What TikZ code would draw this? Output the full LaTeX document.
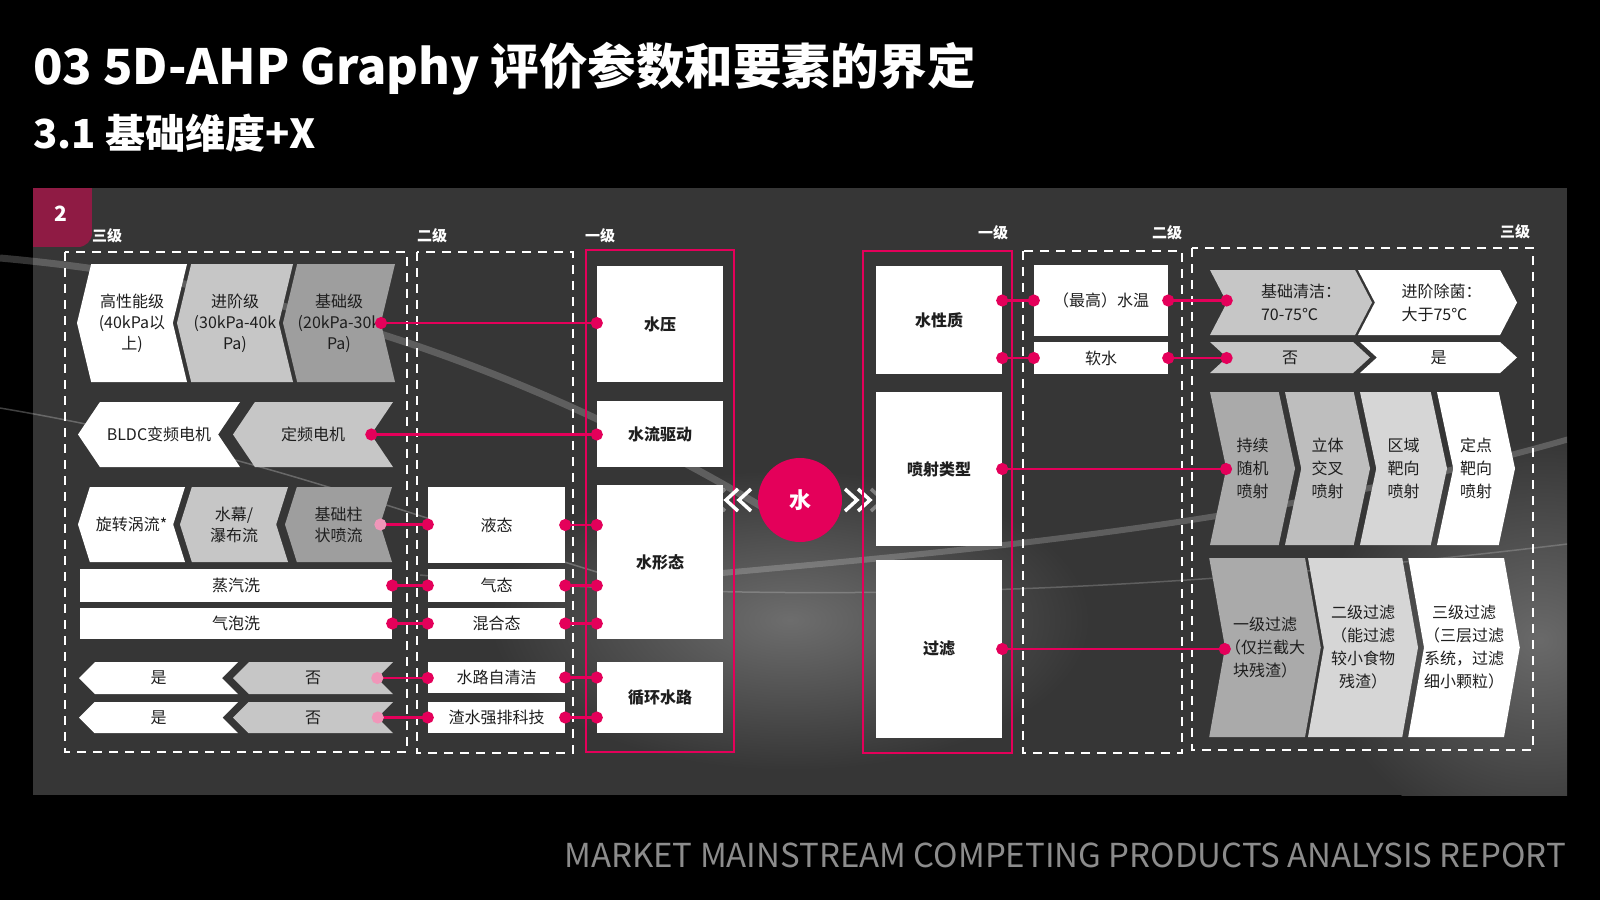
\documentclass[tikz,border=0pt]{standalone}
\usepackage{fontspec}
\setmainfont{Noto Sans CJK SC}
\usetikzlibrary{shapes.symbols,arrows.meta,positioning}
\definecolor{hong}{RGB}{228,0,90}
\definecolor{hongq}{RGB}{240,150,185}
\definecolor{zong}{RGB}{143,27,68}
\definecolor{ban}{RGB}{54,54,54}
\definecolor{huiA}{RGB}{198,198,198}
\definecolor{huiB}{RGB}{158,158,158}
\definecolor{huiC}{RGB}{170,170,170}
\definecolor{huiD}{RGB}{190,190,190}
\definecolor{huiE}{RGB}{214,214,214}
\definecolor{zi}{RGB}{30,30,30}
\definecolor{yejiao}{RGB}{140,140,140}

\tikzset{
  kuang/.style={fill=white, text=zi, inner sep=0pt, font=\bfseries\fontsize{16}{20}\selectfont},
  xiang/.style={fill=white, text=zi, inner sep=0pt, align=center, font=\fontsize{16}{21}\selectfont},
  chevL/.style={signal, signal to=west, signal from=east, xiang},
  chevR/.style={signal, signal to=east, signal from=west, xiang, font=\fontsize{16}{23}\selectfont},
  link/.style={draw=hong, line width=2.5pt, {Circle[length=12pt]}-{Circle[length=12pt]}, shorten <=-6pt, shorten >=-6pt},
  linkq/.style={link, {Circle[length=12pt,color=hongq]}-{Circle[length=12pt]}},
  zu/.style={draw=white, line width=2.5pt, dash pattern=on 9pt off 7pt},
  ji/.style={draw=hong, line width=2.5pt},
  biao/.style={text=white, inner sep=0pt, anchor=west, font=\bfseries\fontsize{15}{15}\selectfont}
}

\begin{document}
\begin{tikzpicture}[x=1pt, y=-1pt]
  \useasboundingbox (0,0) rectangle (1600,900);
  \fill[black] (0,0) rectangle (1600,900);
  \fill[ban] (33,188) rectangle (1567,795);
  \begin{scope}
    \clip (0,188) rectangle (1567,795);
    \shade[inner color=gray!75!ban, outer color=ban] (790,620) ellipse (300 and 150);
    \shade[inner color=gray!70!ban, outer color=ban] (1540,640) ellipse (220 and 200);
    \draw[white, opacity=.2, line width=7pt] (0,258) .. controls (300,285) and (560,380) .. (800,530);
    \draw[white, opacity=.25, line width=1.5pt] (0,408) .. controls (250,450) and (420,520) .. (640,585);
    \draw[white, opacity=.2, line width=6pt] (700,575) .. controls (1000,548) and (1300,520) .. (1600,430);
    \draw[white, opacity=.2, line width=1.5pt] (420,575) .. controls (800,610) and (1200,590) .. (1600,540);
  \end{scope}

  % tag and titles
  \fill[zong] (33,188) rectangle (92,233);
  \fill[zong] (33,200) rectangle (78,247);
  \fill[zong] (78,233) circle (14);
  \node[text=white, font=\bfseries\fontsize{21}{21}\selectfont] (hao) at (61,214) {2};
  \node[anchor=west, inner sep=0pt, text=white, font=\bfseries\fontsize{48.5}{48.5}\selectfont] (biaoti) at (33,69) {03 5D-AHP Graphy 评价参数和要素的界定};
  \node[anchor=west, inner sep=0pt, text=white, font=\bfseries\fontsize{40}{40}\selectfont] (fubiaoti) at (33,133) {3.1 基础维度+X};
  \node[anchor=east, inner sep=0pt, text=yejiao, font=\fontsize{33}{33}\selectfont] (yejiaozi) at (1566,855) {MARKET MAINSTREAM COMPETING PRODUCTS ANALYSIS REPORT};

  % left: 三级
  \draw[zu] (65,252) rectangle (407,752);
  \node[biao] (lbA) at (92,236) {三级};
  \node[chevL, signal pointer angle=153, minimum width=110pt, minimum height=118pt] (gao) at (132,323) {高性能级\\(40kPa以\\上)};
  \node[chevL, signal pointer angle=153, minimum width=116pt, minimum height=118pt, fill=huiA] (jinjie) at (235,323) {进阶级\\(30kPa-40k\\Pa)};
  \node[chevL, signal pointer angle=153, minimum width=112pt, minimum height=118pt, fill=huiB] (jichu) at (339,323) {基础级\\(20kPa-30k\\Pa)};
  \node[chevL, signal pointer angle=112, minimum width=162pt, minimum height=65pt] (bldc) at (159,434.5) {BLDC变频电机};
  \node[chevL, signal pointer angle=112, minimum width=160pt, minimum height=65pt, fill=huiA] (dingpin) at (313,434.5) {定频电机};
  \node[chevL, signal pointer angle=145, minimum width=107pt, minimum height=75pt] (xuanzhuan) at (131.5,524.5) {旋转涡流*};
  \node[chevL, signal pointer angle=145, minimum width=108pt, minimum height=75pt, fill=huiA] (shuimu) at (234,524.5) {水幕/\\瀑布流};
  \node[chevL, signal pointer angle=145, minimum width=107pt, minimum height=75pt, fill=huiB] (zhuzhuang) at (338.5,524.5) {基础柱\\状喷流};
  \node[xiang, minimum width=312pt, minimum height=33pt] (zhengqi) at (236,585.5) {蒸汽洗};
  \node[xiang, minimum width=312pt, minimum height=31pt] (qipao) at (236,623.5) {气泡洗};
  \node[chevL, signal pointer angle=90, minimum width=159pt, minimum height=32pt] (shiA) at (158.5,678) {是};
  \node[chevL, signal pointer angle=90, minimum width=160pt, minimum height=32pt, fill=huiA] (fouA) at (313,678) {否};
  \node[chevL, signal pointer angle=90, minimum width=159pt, minimum height=31pt] (shiB) at (158.5,717.5) {是};
  \node[chevL, signal pointer angle=90, minimum width=160pt, minimum height=31pt, fill=huiA] (fouB) at (313,717.5) {否};

  % left: 二级
  \draw[zu] (417,252) rectangle (573,753);
  \node[biao] (lbB) at (417,236) {二级};
  \node[xiang, minimum width=137pt, minimum height=76pt] (yetai) at (496.5,525) {液态};
  \node[xiang, minimum width=137pt, minimum height=33pt] (qitai) at (496.5,585.5) {气态};
  \node[xiang, minimum width=137pt, minimum height=31pt] (hunhe) at (496.5,623.5) {混合态};
  \node[xiang, minimum width=137pt, minimum height=31pt] (zijie) at (496.5,677.5) {水路自清洁};
  \node[xiang, minimum width=137pt, minimum height=31pt] (zhashui) at (496.5,717.5) {渣水强排科技};

  % left: 一级
  \draw[ji] (586,250) rectangle (734,752);
  \node[biao] (lbC) at (585,236) {一级};
  \node[kuang, minimum width=126pt, minimum height=116pt] (shuiya) at (660,324) {水压};
  \node[kuang, minimum width=126pt, minimum height=66pt] (qudong) at (660,434) {水流驱动};
  \node[kuang, minimum width=126pt, minimum height=154pt] (xingtai) at (660,562) {水形态};
  \node[kuang, minimum width=126pt, minimum height=71pt] (xunhuan) at (660,697.5) {循环水路};

  % centre
  \node[circle, fill=hong, text=white, minimum size=84pt, font=\bfseries\fontsize{22}{22}\selectfont] (shui) at (800,500) {水};
  \foreach \d/\o in {-87/.35,-74/1,-61/1}
    \draw[white, line width=3.5pt, opacity=\o] ([shift={(\d+12,-11)}]shui.center) -- ([shift={(\d,0)}]shui.center) -- ([shift={(\d+12,11)}]shui.center);
  \foreach \d/\o in {57/1,70/1,83/.35}
    \draw[white, line width=3.5pt, opacity=\o] ([shift={(\d-12,-11)}]shui.center) -- ([shift={(\d,0)}]shui.center) -- ([shift={(\d-12,11)}]shui.center);

  % right: 一级
  \draw[ji] (863,251) rectangle (1012,753);
  \node[biao] (lbD) at (978,233) {一级};
  \node[kuang, minimum width=126pt, minimum height=108pt] (xingzhi) at (939,320) {水性质};
  \node[kuang, minimum width=126pt, minimum height=154pt] (penshe) at (939,469) {喷射类型};
  \node[kuang, minimum width=126pt, minimum height=178pt] (guolv) at (939,649) {过滤};

  % right: 二级
  \draw[zu] (1023,251) rectangle (1182,753);
  \node[biao] (lbE) at (1152,233) {二级};
  \node[xiang, minimum width=134pt, minimum height=71pt] (shuiwen) at (1101,300.5) {（最高）水温};
  \node[xiang, minimum width=134pt, minimum height=32pt] (ruanshui) at (1101,358) {软水};

  % right: 三级
  \draw[zu] (1192,248) rectangle (1533,750);
  \node[biao] (lbF) at (1500,232) {三级};
  \node[chevR, align=left, signal pointer angle=125, minimum width=162pt, minimum height=65pt, fill=huiA] (qingjie) at (1291,302.5) {\hspace*{20pt}基础清洁：\\\hspace*{20pt}70-75℃};
  \node[chevR, align=left, signal pointer angle=125, minimum width=159pt, minimum height=65pt] (chujun) at (1437.5,302.5) {\hspace*{8pt}进阶除菌：\\\hspace*{8pt}大于75℃};
  \node[chevR, signal pointer angle=85, minimum width=160pt, minimum height=31pt, fill=huiA] (fouR) at (1290,357.5) {否};
  \node[chevR, signal pointer angle=85, minimum width=157pt, minimum height=31pt] (shiR) at (1438.5,357.5) {是};
  \node[chevR, signal pointer angle=156, minimum width=85pt, minimum height=153pt, fill=huiC] (pA) at (1252.5,468.5) {持续\\随机\\喷射};
  \node[chevR, signal pointer angle=156, minimum width=85pt, minimum height=153pt, fill=huiD] (pB) at (1327.5,468.5) {立体\\交叉\\喷射};
  \node[chevR, signal pointer angle=156, minimum width=87pt, minimum height=153pt, fill=huiE] (pC) at (1403.5,468.5) {区域\\靶向\\喷射};
  \node[chevR, signal pointer angle=156, minimum width=78pt, minimum height=153pt] (pD) at (1476,468.5) {定点\\靶向\\喷射};
  \node[chevR, signal pointer angle=160, minimum width=110pt, minimum height=179pt, fill=huiC] (gA) at (1265,647.5) {一级过滤\\（仅拦截大\\块残渣）};
  \node[chevR, signal pointer angle=160, minimum width=110pt, minimum height=179pt, fill=huiE] (gB) at (1363,647.5) {二级过滤\\（能过滤\\较小食物\\残渣）};
  \node[chevR, signal pointer angle=160, minimum width=108pt, minimum height=179pt] (gC) at (1464,647.5) {三级过滤\\（三层过滤\\系统，过滤\\细小颗粒）};

  % links
  \draw[link] (jichu.east) -- (jichu.east -| shuiya.west);
  \draw[link] (dingpin.east) -- (dingpin.east -| qudong.west);
  \draw[linkq] (zhuzhuang.east) -- (zhuzhuang.east -| yetai.west);
  \draw[link] (zhengqi.east) -- (zhengqi.east -| qitai.west);
  \draw[link] (qipao.east) -- (qipao.east -| hunhe.west);
  \draw[linkq] (fouA.east) -- (fouA.east -| zijie.west);
  \draw[linkq] (fouB.east) -- (fouB.east -| zhashui.west);
  \draw[link] (yetai.east) -- (yetai.east -| xingtai.west);
  \draw[link] (qitai.east) -- (qitai.east -| xingtai.west);
  \draw[link] (hunhe.east) -- (hunhe.east -| xingtai.west);
  \draw[link] (zijie.east) -- (zijie.east -| xunhuan.west);
  \draw[link] (zhashui.east) -- (zhashui.east -| xunhuan.west);
  \draw[link] (shuiwen.west -| xingzhi.east) -- (shuiwen.west);
  \draw[link] (ruanshui.west -| xingzhi.east) -- (ruanshui.west);
  \draw[link] (shuiwen.east) -- (shuiwen.east -| qingjie.west);
  \draw[link] (ruanshui.east) -- (ruanshui.east -| fouR.west);
  \draw[link] (penshe.east) -- (penshe.east -| pA.west);
  \draw[link] (guolv.east) -- (guolv.east -| gA.west);
\end{tikzpicture}
\end{document}
